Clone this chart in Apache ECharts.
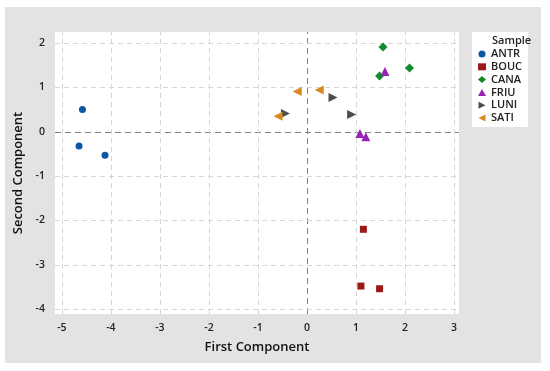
<!DOCTYPE html>
<html><head><meta charset="utf-8">
<script src="https://cdn.jsdelivr.net/npm/echarts@6/dist/echarts.min.js"></script>
<style>html,body{margin:0;padding:0;background:#fff}#c{width:550px;height:371px}</style>
</head><body><div id="c"></div>
<script>
const sampleNames = ['ANTR','BOUC','CANA','FRIU','LUNI','SATI'];
const ANTR = [[-4.58,0.50],[-4.65,-0.32],[-4.12,-0.53]];
const BOUC = [[1.15,-2.20],[1.10,-3.48],[1.48,-3.54]];
const CANA = [[1.55,1.91],[2.09,1.44],[1.48,1.26]];
const FRIU = [[1.59,1.36],[1.08,-0.04],[1.20,-0.11]];
const LUNI = [[-0.44,0.41],[0.53,0.77],[0.91,0.39]];
const SATI = [[-0.59,0.35],[-0.20,0.91],[0.25,0.94]];
const xTicks = [-5,-4,-3,-2,-1,0,1,2,3];
const yTicks = [-4,-3,-2,-1,0,1,2];

const seriesData = [ANTR,BOUC,CANA,FRIU,LUNI,SATI];
const colors = ['#0b57a4','#9a1a1a','#0f8a2c','#9a22b8','#4d4d4f','#d98a1c'];
const symbols = ['circle','rect','diamond','triangle',
  'path://M0,0 L10,5 L0,10 Z','path://M10,0 L0,5 L10,10 Z'];
const sizes = [7,7,9,9,9,9];
const font = '"Open Sans","Noto Sans",sans-serif';

const chart = echarts.init(document.getElementById('c'), null, {renderer:'canvas'});
const series = sampleNames.map((n,i)=>({
  name:n, type:'scatter', data:seriesData[i], symbol:symbols[i], symbolSize:sizes[i],
  itemStyle:{color:colors[i], opacity:1}, z:5
}));
series.push({
  type:'line', data:[], silent:true, z:2,
  markLine:{symbol:'none', silent:true, label:{show:false},
    lineStyle:{color:'#808080', type:[6,4], width:1},
    data:[{xAxis:0},{yAxis:0}]}
});
series.push({
  type:'line', data:[], silent:true, z:1,
  markLine:{symbol:'none', silent:true, label:{show:false},
    lineStyle:{color:'#d6d6d6', type:[5,4], width:1},
    data: xTicks.filter(v=>v!==0).map(v=>({xAxis:v})).concat(yTicks.filter(v=>v!==0).map(v=>({yAxis:v})))}
});
chart.setOption({
  animation:false,
  color:colors,
  graphic:[
    {type:'rect', shape:{x:5,y:7,width:536,height:356}, style:{fill:'#e3e3e3'}, z:-10, silent:true},
    {type:'text', left:492, top:35, z:100, style:{text:'Sample', fontFamily:font, fontSize:11, fontWeight:600, fill:'#222'}}
  ],
  grid:{left:55, top:32, width:404, height:282, show:true, backgroundColor:'#fff', borderWidth:0},
  legend:{
    data:sampleNames, orient:'vertical', left:472, top:32, itemGap:0.8,
    itemWidth:8, itemHeight:7, padding:[16,6,3,6],
    backgroundColor:'#fff', borderWidth:0,
    textStyle:{fontFamily:font, fontSize:11, lineHeight:12, color:'#222', fontWeight:600}
  },
  xAxis:{
    type:'value', min:-5.14, max:3.1, interval:1,
    name:'First Component', nameLocation:'middle', nameGap:27,
    nameTextStyle:{fontFamily:font, fontSize:13, color:'#111', fontWeight:600},
    axisLine:{show:false}, axisTick:{show:false},
    axisLabel:{fontFamily:font, fontSize:10.5, color:'#222', fontWeight:600, margin:9, customValues: xTicks},
    splitLine:{show:false}
  },
  yAxis:{
    type:'value', min:-4.11, max:2.25, interval:1,
    name:'Second Component', nameLocation:'middle', nameGap:28,
    nameTextStyle:{fontFamily:font, fontSize:13, color:'#111', fontWeight:600},
    axisLine:{show:false}, axisTick:{show:false},
    axisLabel:{fontFamily:font, fontSize:10.5, color:'#222', fontWeight:600, margin:10, customValues: yTicks},
    splitLine:{show:false}
  },
  series:series
});
</script>
</body></html>
